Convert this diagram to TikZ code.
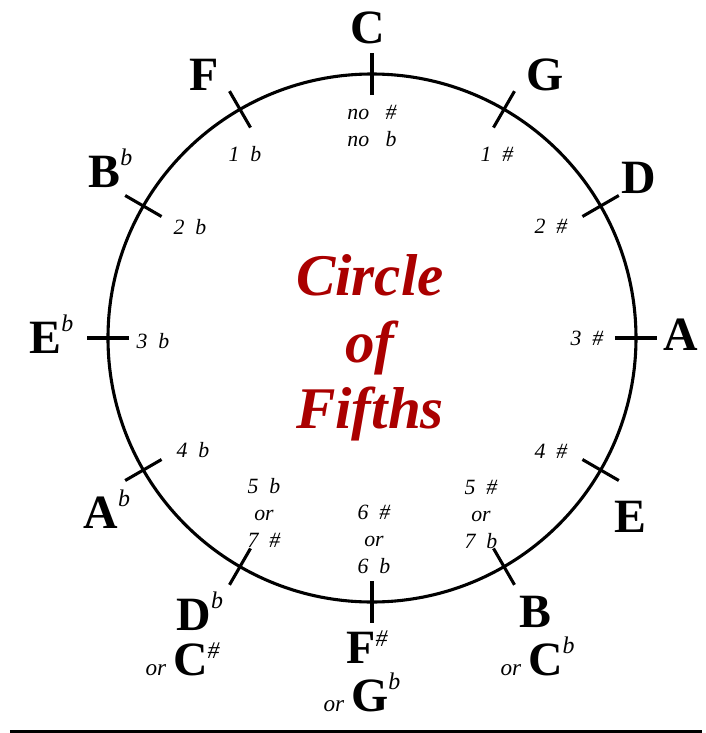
\documentclass[tikz,border=0pt]{standalone}
\usepackage{fontspec}
\setmainfont{Liberation Serif}
\usepackage{tikz}
\usetikzlibrary{positioning}
\definecolor{FifthsRed}{RGB}{170, 0, 0}
\newcommand{\flt}{\raisebox{15pt}{\fontsize{17}{17}\selectfont\mdseries\itshape b}}
\newcommand{\shp}{\raisebox{12pt}{\fontsize{17}{17}\selectfont\mdseries\itshape\#}}
\newcommand{\ortext}{{\fontsize{16.5}{16.5}\selectfont\mdseries\itshape or}\hspace{5pt}}
\tikzset{
    keyname/.style={font=\fontsize{34}{34}\selectfont\bfseries, inner sep=0pt, anchor=base west},
    sigcount/.style={font=\fontsize{15.5}{19.2}\selectfont\itshape, align=center, inner sep=0pt},
    titleline/.style={font=\fontsize{42}{42}\selectfont\bfseries\itshape, text=FifthsRed, inner sep=0pt, anchor=base},
    every path/.style={line join=round}
}

\begin{document}
\begin{tikzpicture}[x=0.025cm, y=0.025cm, line width=2.2pt]
    \useasboundingbox (-372,-395) rectangle (334,338);

    % the circle and its twelve ticks
    \draw (0,0) circle [radius=264];
    \foreach \ang in {0,30,...,330}
        \draw (\ang:243) -- (\ang:285);

    % title
    \node [titleline] (title1) at (-2,43) {Circle};
    \node [titleline] (title2) at (-2,-24) {of};
    \node [titleline] (title3) at (-2,-90) {Fifths};

    % keys round the circle
    \node [keyname, anchor=base] (keyC) at (-4,295) {C};
    \node [keyname] (keyG) at (153,248) {G};
    \node [keyname] (keyD) at (248,145) {D};
    \node [keyname] (keyA) at (290,-12) {A};
    \node [keyname] (keyE) at (241,-194) {E};
    \node [keyname] (keyB) at (146,-289) {B};
    \node [keyname] (keyCb) at (127,-337) {\ortext C\flt};
    \node [keyname] (keyFs) at (-27,-325) {F\shp};
    \node [keyname] (keyGb) at (-50,-373) {\ortext G\flt};
    \node [keyname] (keyDb) at (-197,-292) {D\flt};
    \node [keyname] (keyCs) at (-228,-337) {\ortext C\shp};
    \node [keyname] (keyAb) at (-290,-190) {A\flt};
    \node [keyname] (keyEb) at (-344,-15) {E\flt};
    \node [keyname] (keyBb) at (-285,151) {B\flt};
    \node [keyname] (keyF) at (-184,248) {F};

    % sharps and flats inside
    \node [sigcount] (sigC) at (0,212) {no~~~\#\\no~~~b};
    \node [sigcount] (sigF) at (-127,184) {1~~b};
    \node [sigcount] (sigBb) at (-182,111) {2~~b};
    \node [sigcount] (sigEb) at (-219,-3) {3~~b};
    \node [sigcount] (sigAb) at (-179,-112) {4~~b};
    \node [sigcount] (sigDb) at (-108,-175) {5~~b\\or\\7~~\#};
    \node [sigcount] (sigFs) at (2,-201) {6~~\#\\or\\6~~b};
    \node [sigcount] (sigB) at (109,-176) {5~~\#\\or\\7~~b};
    \node [sigcount] (sigE) at (179,-113) {4~~\#};
    \node [sigcount] (sigA) at (215,0) {3~~\#};
    \node [sigcount] (sigD) at (179,112) {2~~\#};
    \node [sigcount] (sigG) at (125,184) {1~~\#};

    % rule under the picture
    \draw (-362,-393.5) -- (330,-393.5);
\end{tikzpicture}
\end{document}
